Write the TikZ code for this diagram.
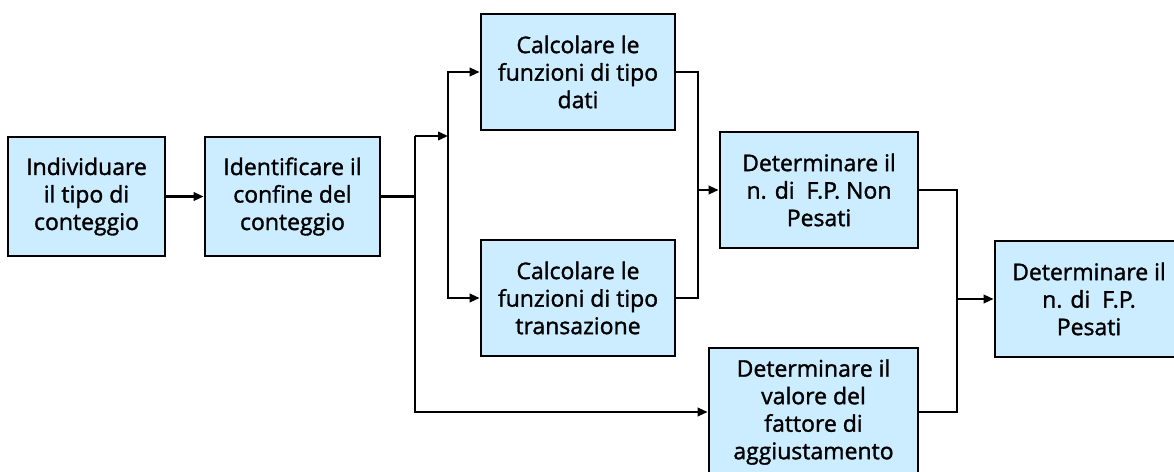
\documentclass[tikz,border=0pt]{standalone}
\usepackage{fontspec}
\setmainfont{Open Sans}
\newfontfamily\boxfont[FakeBold=1.4]{Open Sans}
\usetikzlibrary{arrows.meta}
\definecolor{boxfill}{HTML}{CCECFF}
\tikzset{
  stepbox/.style={draw=black, line width=2.8pt, fill=boxfill, align=center,
    inner sep=0pt, font=\boxfont\fontsize{23}{27.5}\selectfont},
  ln/.style={line width=2.2pt},
  arr/.style={line width=2.2pt, -{Triangle[length=10pt,width=8.5pt]}},
}
\begin{document}
\begin{tikzpicture}[x=1pt,y=-1pt]
\useasboundingbox (0,0) rectangle (1174,471);
% process steps
\node[stepbox, minimum width=157pt, minimum height=119pt] (b1) at (86.5,196.5)
  {Individuare\\il tipo di\\conteggio};
\node[stepbox, minimum width=175pt, minimum height=119pt] (b2) at (292.5,196.5)
  {Identificare il\\confine del\\conteggio};
\node[stepbox, minimum width=194pt, minimum height=116pt] (dati) at (578,72)
  {Calcolare le\\funzioni di tipo\\dati};
\node[stepbox, minimum width=194pt, minimum height=116pt] (trans) at (578,298)
  {Calcolare le\\funzioni di tipo\\transazione};
\node[stepbox, minimum width=198pt, minimum height=116pt] (nonpes) at (819,190)
  {Determinare il\\n. di~~F.P. Non\\Pesati};
\node[stepbox, minimum width=209pt, minimum height=128pt] (agg) at (813.5,412)
  {Determinare il\\valore del\\fattore di\\aggiustamento};
\node[stepbox, minimum width=188pt, minimum height=116pt] (pes) at (1089,299)
  {Determinare il\\n. di~~F.P.\\Pesati};
% junction points of the connectors
\coordinate (ja) at (415,136);
\coordinate (jb) at (448,136);
\coordinate (jm) at (b2.east -| ja);
\coordinate (jc) at (698,190);
\coordinate (jd) at (957,299);
% connectors
\draw[arr] (b1) -- (b2);
\draw[ln] (b2.east) -- (jm);
\draw[ln] (jm) -- (ja);
\draw[arr] (ja) -- (jb);
\draw[arr] (jb) |- (dati.west);
\draw[arr] (jb) |- (trans.west);
\draw[arr] (jm) |- (agg.west);
\draw[ln] (dati.east) -| (jc);
\draw[ln] (trans.east) -| (jc);
\draw[arr] (jc) -- (nonpes.west);
\draw[ln] (nonpes.east) -| (jd);
\draw[ln] (agg.east) -| (jd);
\draw[arr] (jd) -- (pes.west);
\end{tikzpicture}
\end{document}
